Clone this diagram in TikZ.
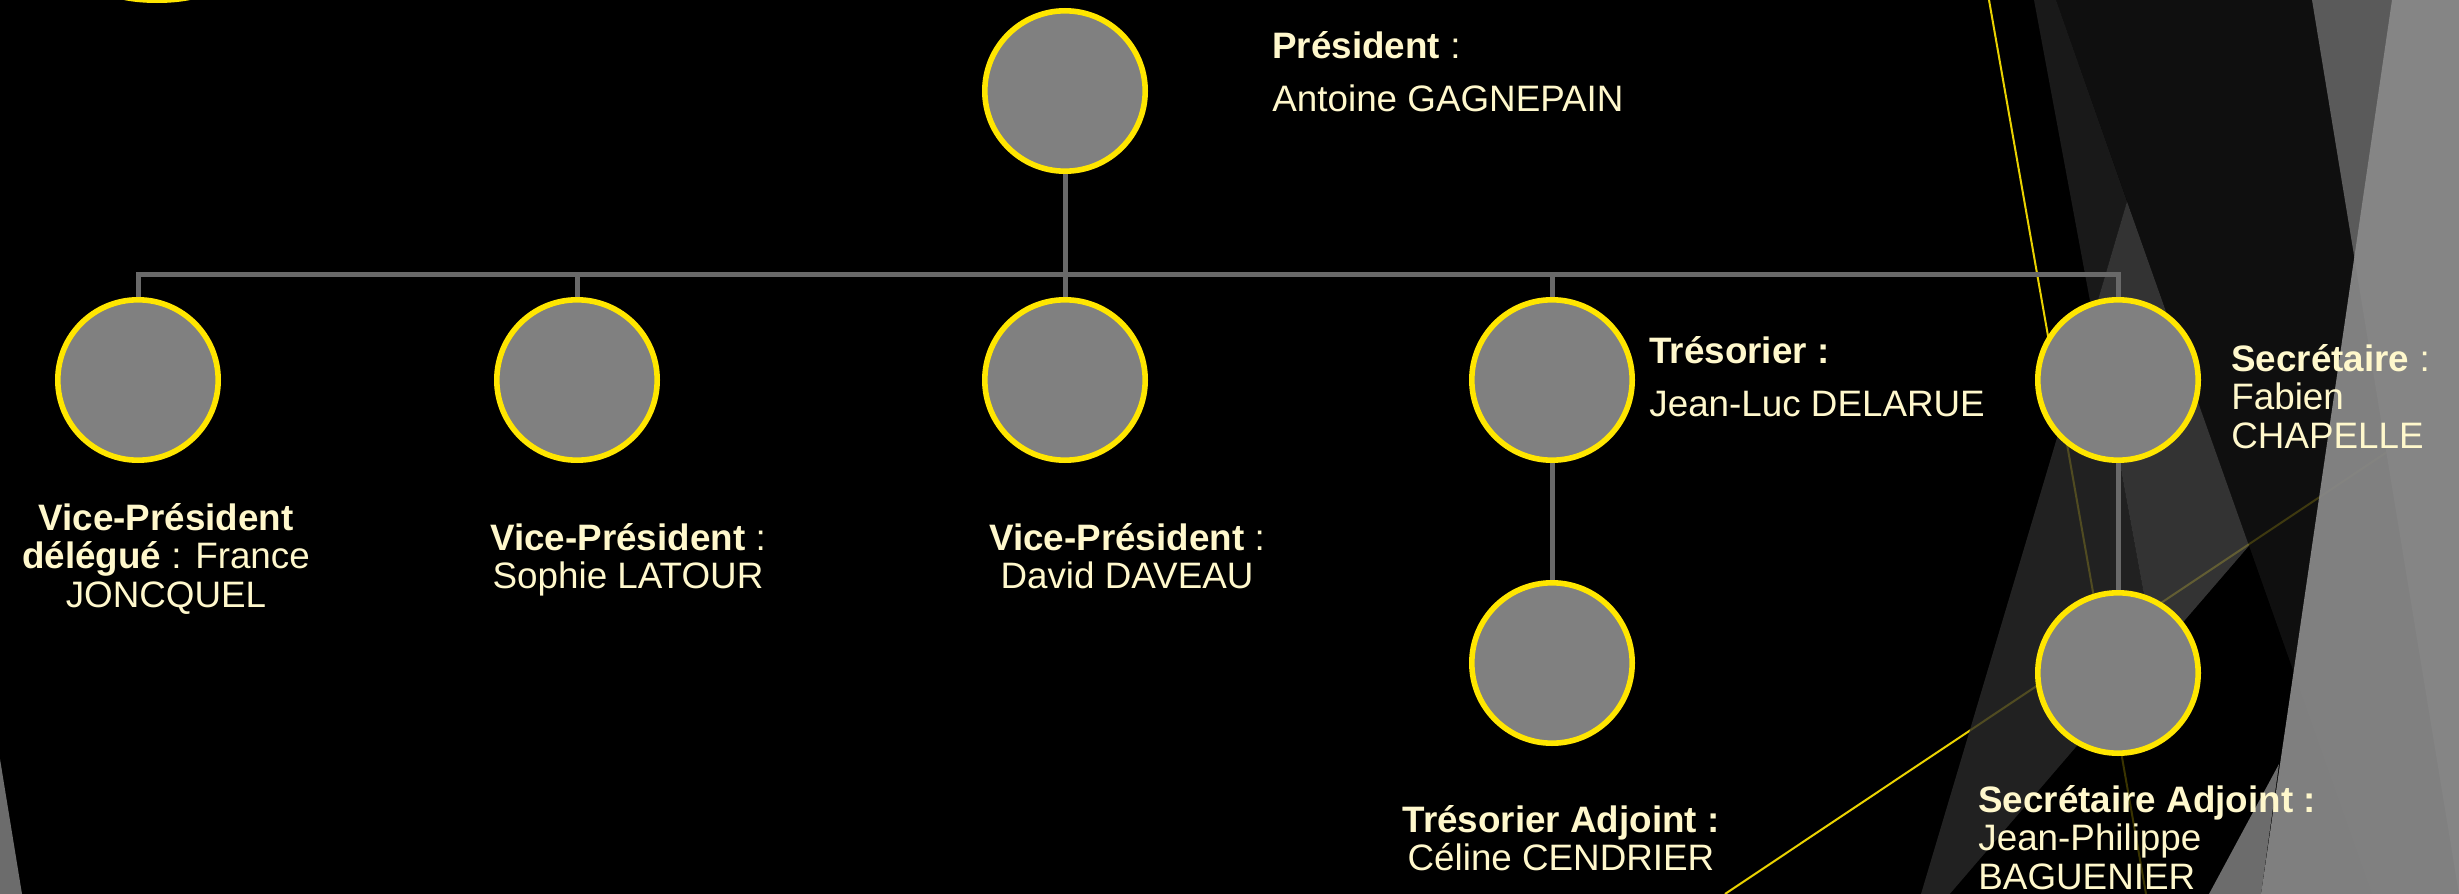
\documentclass[tikz,border=0pt]{standalone}
\usepackage{fontspec}
\setmainfont{Liberation Sans}
\usepackage{xcolor}
\definecolor{nodegray}{HTML}{808080}
\definecolor{ringyellow}{HTML}{FFE600}
\definecolor{linkgray}{HTML}{696969}
\definecolor{labelcream}{HTML}{FFF8CC}
\definecolor{traceyellow}{HTML}{EAD200}
\definecolor{facetdark}{HTML}{131313}
\definecolor{facetstrip}{HTML}{202020}
\definecolor{facetwedge}{HTML}{2A2A2A}
\definecolor{facetcross}{HTML}{404040}
\definecolor{facetmid}{HTML}{5A5A5A}
\definecolor{facetlight}{HTML}{898989}
\definecolor{facetedge}{HTML}{6C6C6C}

\begin{document}
\begin{tikzpicture}[x=0.5pt,y=-0.5pt,
  member/.style={circle,fill=nodegray,draw=ringyellow,line width=2.8pt,minimum size=80.2pt,inner sep=0pt},
  link/.style={draw=linkgray,line width=2.5pt},
  trace/.style={draw=traceyellow,line width=1pt},
  lbl/.style={text=labelcream,inner sep=0pt,font=\fontsize{18.4}{19.25}\selectfont},
  widelbl/.style={lbl,font=\fontsize{18.4}{26.5}\selectfont}]
% slide background, 2459 x 894 px
\fill[black] (0,0) rectangle (2459,894);
\useasboundingbox (0,0) rectangle (2459,894);

% corner ring, top left (only its lower rim shows)
\fill[ringyellow] (157,-10) ellipse[x radius=26pt,y radius=6.5pt];
\fill[facetedge] (0,759) -- (22,894) -- (0,894) -- cycle;

% thin yellow traces behind the facets
\coordinate (traceAtop) at (1989,0);
\coordinate (traceAbot) at (2146,894);
\coordinate (traceBbot) at (1725,894);
\coordinate (traceBend) at (2459,404);
\draw[trace] (traceAtop) -- (traceAbot);
\draw[trace] (traceBbot) -- (traceBend);

% facets on the right edge
\fill[facetdark,opacity=0.8] (2056,0) -- (2459,0) -- (2459,894) -- (2372,894) -- cycle;
\fill[facetstrip,opacity=0.8] (2034,0) -- (2056,0) -- (2127,201.5) -- (2093,317) -- cycle;
\fill[facetwedge,opacity=0.8] (2093,317) -- (2155,655) -- (1950,894) -- (1921,894) -- cycle;
\fill[facetcross,opacity=0.8] (2127,201.5) -- (2093,317) -- (2155,655) -- (2249,546) -- cycle;
\fill[black,opacity=0.75] (2155,655) -- (2249,546) -- (2372,894) -- (1950,894) -- cycle;
\fill[facetmid] (2312,0) -- (2459,0) -- (2459,894) -- cycle;
\fill[facetedge] (2209,894) -- (2279,764) -- (2261,894) -- cycle;
\fill[facetlight,opacity=0.93] (2392,0) -- (2459,0) -- (2459,894) -- (2261,894) -- cycle;

% members
\node[member] (pres) at (1065,91) {};
\node[member] (vpd) at (138,380) {};
\node[member] (vps) at (577,380) {};
\node[member] (vpdd) at (1065,380) {};
\node[member] (tres) at (1552,380) {};
\node[member] (sec) at (2118,380) {};
\node[member] (tresadj) at (1552,663) {};
\node[member] (secadj) at (2118,673) {};

% links
\coordinate (bar) at (1065,274);
\draw[link] (pres.south) -- (bar);
\draw[link] (vpd.north) |- (bar) -| (sec.north);
\foreach \m in {vps,vpdd,tres}
  \draw[link] (\m.north) -- (\m.north |- bar);
\draw[link] (tres.south) -- (tresadj.north);
\draw[link] (sec.south) -- (secadj.north);

% labels
\node[widelbl,anchor=base west] (presname) at (1272,58) {\begin{tabular}[t]{@{}l@{}}\textbf{Président} :\\Antoine GAGNEPAIN\end{tabular}};
\node[lbl,anchor=base] (vpdname) at (166,530) {\begin{tabular}[t]{@{}c@{}}\textbf{Vice-Président}\\\textbf{délégué} : France\\JONCQUEL\end{tabular}};
\node[lbl,anchor=base] (vpsname) at (628,550) {\begin{tabular}[t]{@{}c@{}}\textbf{Vice-Président} :\\Sophie LATOUR\end{tabular}};
\node[lbl,anchor=base] (vpddname) at (1127,550) {\begin{tabular}[t]{@{}c@{}}\textbf{Vice-Président} :\\David DAVEAU\end{tabular}};
\node[widelbl,anchor=base west] (tresname) at (1649,363) {\begin{tabular}[t]{@{}l@{}}\textbf{Trésorier :}\\Jean-Luc DELARUE\end{tabular}};
\node[lbl,anchor=base west] (secname) at (2231,371) {\begin{tabular}[t]{@{}l@{}}\textbf{Secrétaire} :\\Fabien\\CHAPELLE\end{tabular}};
\node[lbl,anchor=base] (tresadjname) at (1561,832) {\begin{tabular}[t]{@{}c@{}}\textbf{Trésorier Adjoint :}\\Céline CENDRIER\end{tabular}};
\node[lbl,anchor=base west] (secadjname) at (1978,812) {\begin{tabular}[t]{@{}l@{}}\textbf{Secrétaire Adjoint :}\\Jean-Philippe\\BAGUENIER\end{tabular}};
\end{tikzpicture}
\end{document}
